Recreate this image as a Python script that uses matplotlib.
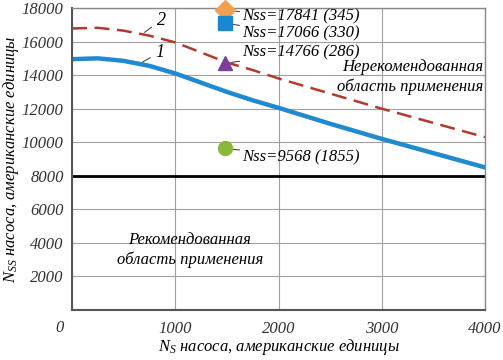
import matplotlib
matplotlib.use('Agg')
import matplotlib.pyplot as plt

# данные
ns = [0, 250, 500, 750, 1000, 1250, 1500, 1750, 2000, 2500, 3000, 3500, 4000]
curve1 = [14950, 15000, 14850, 14550, 14100, 13550, 13000, 12500, 12050, 11100, 10200, 9350, 8500]
curve2 = [16780, 16820, 16650, 16350, 15950, 15350, 14750, 14300, 13800, 12900, 12000, 11150, 10300]

pts_x = [1480, 1480, 1480, 1480]
pts_y = [17860, 17080, 14700, 9640]
pts_lbl = ['Nss=17841 (345)', 'Nss=17066 (330)', 'Nss=14766 (286)', 'Nss=9568 (1855)']
pts_mark = ['D', 's', '^', 'o']
pts_col = ['#f0a050', '#1a88d0', '#7b3f9a', '#8ab83a']

limit = 8000

plt.rcParams['font.family'] = ['Liberation Serif', 'DejaVu Serif']
plt.rcParams['font.style'] = 'italic'
plt.rcParams['mathtext.fontset'] = 'custom'
plt.rcParams['mathtext.rm'] = 'Liberation Serif:italic'
plt.rcParams['mathtext.it'] = 'Liberation Serif:italic'

fig = plt.figure(figsize=(5.03, 3.6), dpi=100)
ax = fig.add_axes([72 / 503, 1 - 310 / 360, 413 / 503, 302 / 360])

ax.set_xlim(0, 4000)
ax.set_ylim(0, 18000)
ax.set_xticks([0, 1000, 2000, 3000, 4000])
ax.set_xticklabels(['', '1000', '2000', '3000', '4000'])
ax.set_yticks(range(2000, 18001, 2000))
ax.grid(True, color='#a0a0a0', linewidth=0.8)
ax.tick_params(length=0, labelsize=12, colors='#333333')
ax.tick_params(axis='y', pad=6)
ax.tick_params(axis='x', pad=8)
for s in ax.spines.values():
    s.set_color('#888888')
    s.set_linewidth(1.0)
ax.spines['left'].set_color('#555555')
ax.spines['bottom'].set_color('#555555')
ax.spines['left'].set_linewidth(1.5)
ax.spines['bottom'].set_linewidth(1.5)
ax.text(-120, -600, '0', fontsize=12, color='#333333', ha='center', va='top')

ax.axhline(limit, color='black', linewidth=2)
ax.plot(ns, curve1, color='#1f8ad0', linewidth=3.2)
ax.plot(ns, curve2, color='#b03a2e', linewidth=1.8, dashes=(6, 3))

ax.annotate('1', xy=(660, 14700), xytext=(810, 15100), fontsize=13,
            arrowprops=dict(arrowstyle='-', color='#333333', lw=0.7))
ax.annotate('2', xy=(680, 16450), xytext=(820, 17000), fontsize=13,
            arrowprops=dict(arrowstyle='-', color='#333333', lw=0.7))

for x, y, m, c in zip(pts_x, pts_y, pts_mark, pts_col):
    ax.plot(x, y, marker=m, color=c, markersize=10, zorder=5, clip_on=False)

# подписи точек
offs = [(1650, 17500), (1650, 16490), (1650, 15360), (1650, 9100)]
for x, y, t, (tx, ty) in zip(pts_x, pts_y, pts_lbl, offs):
    ax.annotate(t, xy=(x, y), xytext=(tx, ty), fontsize=12, va='center',
                arrowprops=dict(arrowstyle='-', color='#333333', lw=0.7,
                                shrinkA=0, shrinkB=5))

ax.text(3980, 13870, 'Нерекомендованная\nобласть применения', fontsize=12,
        ha='right', va='center', linespacing=1.3)
ax.text(1140, 3570, 'Рекомендованная\nобласть применения', fontsize=12,
        ha='center', va='center', linespacing=1.3)

ax.set_xlabel('$N_S$ насоса, американские единицы', fontsize=12, va='center')
ax.set_ylabel('$N_{SS}$ насоса, американские единицы', fontsize=12, va='center')
ax.xaxis.set_label_coords(0.5, -0.122)
ax.yaxis.set_label_coords(-0.148, 0.5)

fig.savefig('out.png', dpi=100)
